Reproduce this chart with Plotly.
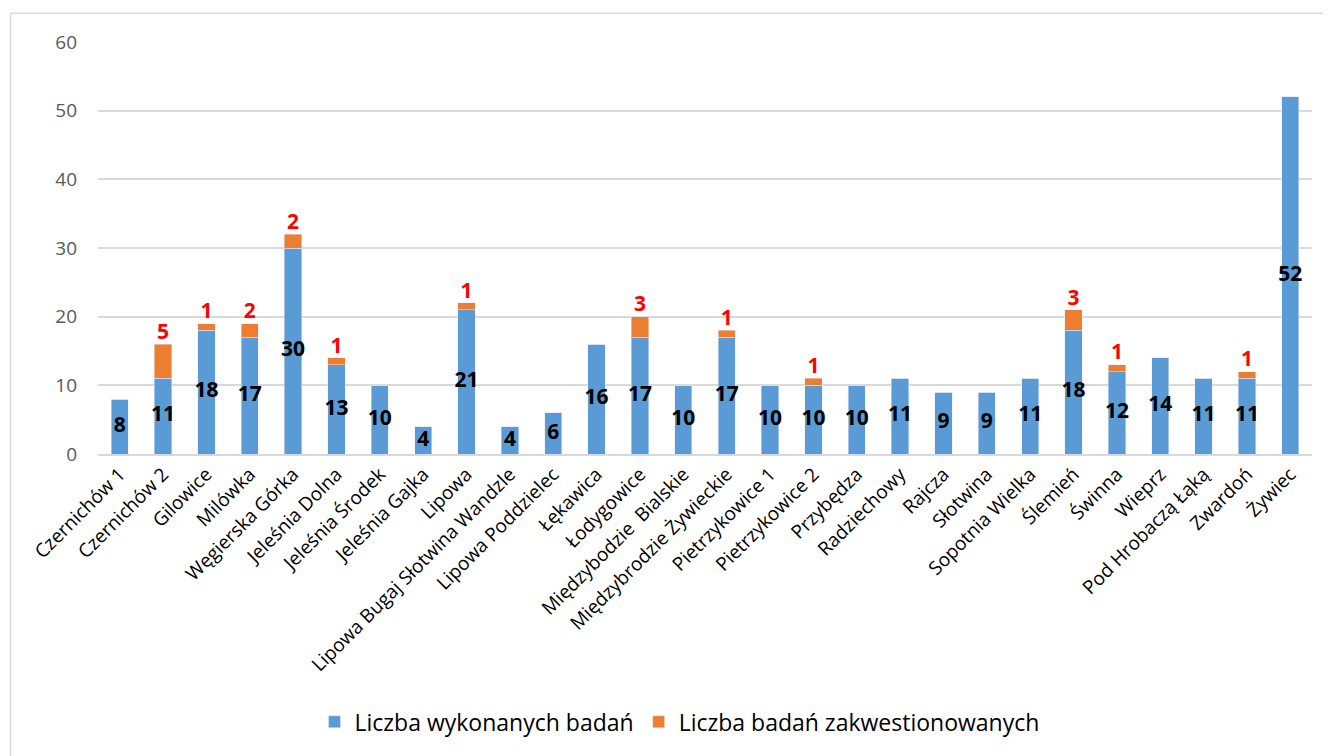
import plotly.graph_objects as go

miejsca = ["Czernichów 1", "Czernichów 2", "Gilowice", "Milówka", "Węgierska Górka",
           "Jeleśnia Dolna", "Jeleśnia Środek", "Jeleśnia Gajka", "Lipowa",
           "Lipowa Bugaj Słotwina Wandzle", "Lipowa Poddzielec", "Łękawica", "Łodygowice",
           "Międzybodzie  Bialskie", "Międzybrodzie Żywieckie", "Pietrzykowice 1",
           "Pietrzykowice 2", "Przybędza", "Radziechowy", "Rajcza", "Słotwina",
           "Sopotnia Wielka", "Ślemień", "Świnna", "Wieprz", "Pod Hrobaczą Łąką",
           "Zwardoń", "Żywiec"]
wykonane = [8, 11, 18, 17, 30, 13, 10, 4, 21, 4, 6, 16, 17, 10, 17, 10,
            10, 10, 11, 9, 9, 11, 18, 12, 14, 11, 11, 52]
zakwestionowane = [0, 5, 1, 2, 2, 1, 0, 0, 1, 0, 0, 0, 3, 0, 1, 0,
                   1, 0, 0, 0, 0, 0, 3, 1, 0, 0, 1, 0]

FONT = "Open Sans"
BLUE = "#5b9bd5"
ORANGE = "#ed7d31"

fig = go.Figure()
fig.add_trace(go.Bar(x=miejsca, y=wykonane, name="Liczba wykonanych badań",
                     marker_color=BLUE))
fig.add_trace(go.Bar(x=miejsca, y=zakwestionowane, name="Liczba badań zakwestionowanych",
                     marker_color=ORANGE))

# etykiety wewnatrz niebieskich slupkow (na srodku)
fig.add_trace(go.Scatter(x=miejsca, y=[v / 2 for v in wykonane], mode="text",
                         text=[str(v) for v in wykonane], showlegend=False,
                         hoverinfo="skip",
                         textfont=dict(family=FONT, size=21, color="black", weight="bold")))

# czerwone etykiety nad slupkami z zakwestionowanymi
idx = [i for i, z in enumerate(zakwestionowane) if z > 0]
fig.add_trace(go.Scatter(x=[miejsca[i] for i in idx],
                         y=[wykonane[i] + zakwestionowane[i] for i in idx],
                         mode="text", textposition="top center",
                         text=[str(zakwestionowane[i]) for i in idx], showlegend=False,
                         hoverinfo="skip",
                         textfont=dict(family=FONT, size=21, color="#ff0000", weight="bold")))

fig.update_layout(
    barmode="stack", bargap=0.6,
    width=1331, height=756,
    margin=dict(l=90, r=27, t=34, b=310, autoexpand=False),
    plot_bgcolor="white", paper_bgcolor="white",
    font=dict(family=FONT, color="black"),
    legend=dict(orientation="h", x=0.479, xanchor="center", y=-0.65, yanchor="middle",
                font=dict(size=23, color="#000000"), traceorder="normal"),
    xaxis=dict(tickangle=-45, tickfont=dict(size=19, color="black"), automargin=False,
               range=[-0.5, len(miejsca) - 0.5],
               showline=True, linecolor="#d9d9d9", linewidth=1.5, showgrid=False),
    yaxis=dict(range=[0, 60], dtick=10, showgrid=True, gridcolor="#d9d9d9", gridwidth=1.5,
               zeroline=False, tickfont=dict(size=19, color="#595959"), automargin=False,
               ticklabelstandoff=20),
    shapes=[dict(type="rect", xref="paper", yref="paper",
                 x0=-0.072, x1=1.05, y0=-0.8, y1=1.07,
                 line=dict(color="#d9d9d9", width=1.5), layer="below")],
)

fig.write_html("out.html")
